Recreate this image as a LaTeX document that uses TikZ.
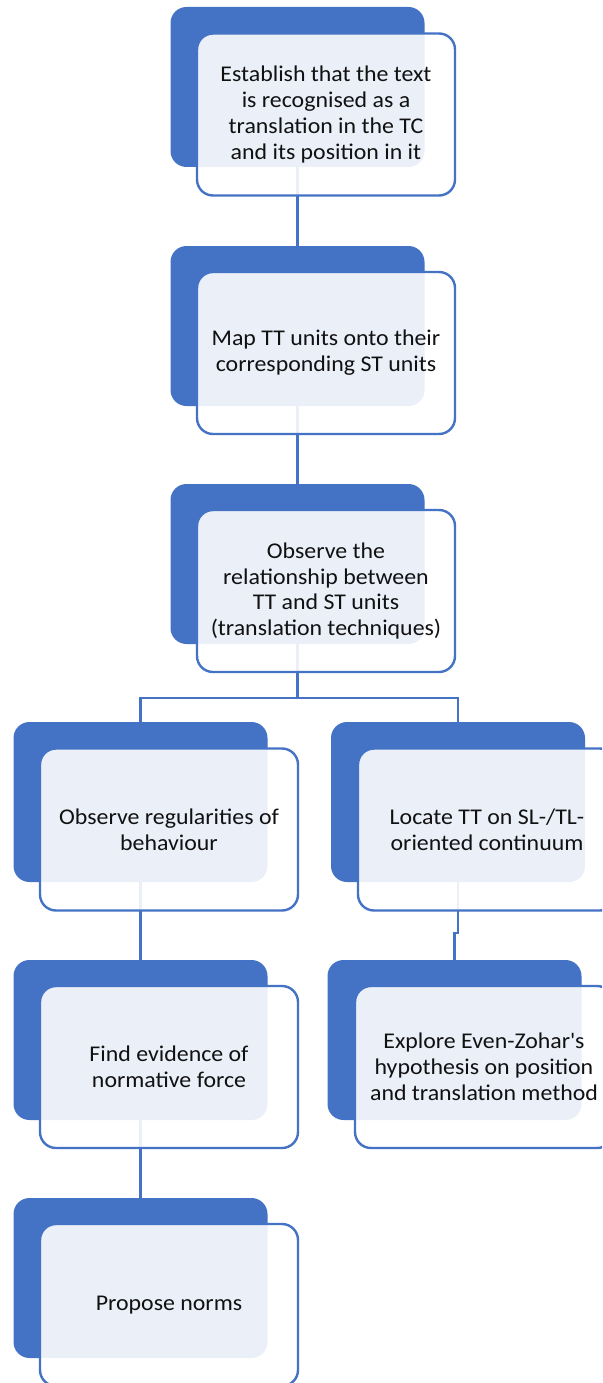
\documentclass[tikz,border=0pt]{standalone}
\usepackage{fontspec}
\setmainfont{Carlito}[FakeStretch=1.06]
\definecolor{blueC}{HTML}{4472C4}
\definecolor{txt}{HTML}{111111}
\begin{document}
\begin{tikzpicture}[x={(1pt,0)},y={(0,-1pt)},
  backbox/.style={rectangle,rounded corners=16pt,fill=blueC,draw=none,
    minimum width=254pt,minimum height=160pt,inner sep=0pt},
  frontbox/.style={rectangle,rounded corners=16pt,draw=blueC,line width=2.4pt,
    fill=white,fill opacity=0.89,text opacity=1,text=txt,
    minimum width=258pt,minimum height=162pt,inner sep=0pt,align=center,
    font=\fontsize{22.5}{25.8}\selectfont},
  link/.style={draw=blueC,line width=2.4pt}]
\useasboundingbox (0,0) rectangle (602,1383);
\clip (0,0) rectangle (602,1383);
\fill[white] (0,0) rectangle (602,1383);
% back boxes
\node[backbox] (b1) at (297.5,87) {};
\node[backbox] (b2) at (297.5,326) {};
\node[backbox] (b3) at (297.5,564) {};
\node[backbox] (bl1) at (140.5,802) {};
\node[backbox] (br1) at (458,802) {};
\node[backbox] (bl2) at (140.5,1040) {};
\node[backbox] (br2) at (454.5,1040) {};
\node[backbox] (bl3) at (140.5,1278) {};
% connectors
\coordinate (j) at (297.5,698);
\path[link] (b1.south) -- (b2.north);
\path[link] (b2.south) -- (b3.north);
\path[link] (b3.south) -- (j) -| (bl1.north);
\path[link] (j) -| (br1.north);
\path[link] (bl1.south) -- (bl2.north);
\path[link] (br1.south) -- ++(0,51) -| (br2.north);
\path[link] (bl2.south) -- (bl3.north);
% front boxes
\node[frontbox] (f1) at (326,114.5) {Establish that the text\\is recognised as a\\translation in the TC\\and its position in it};
\node[frontbox] (f2) at (326,353) {Map TT units onto their\\corresponding ST units};
\node[frontbox] (f3) at (326,591) {Observe the\\relationship between\\TT and ST units\\(translation techniques)};
\node[frontbox] (fl1) at (169,829.5) {Observe regularities of\\behaviour};
\node[frontbox] (fr1) at (487,829.5) {Locate TT on SL-/TL-\\oriented continuum};
\node[frontbox] (fl2) at (169,1067) {Find evidence of\\normative force};
\node[frontbox] (fr2) at (484,1067) {Explore Even-Zohar\textquotesingle s\\hypothesis on position\\and translation method};
\node[frontbox] (fl3) at (169,1305) {Propose norms};
\end{tikzpicture}
\end{document}
